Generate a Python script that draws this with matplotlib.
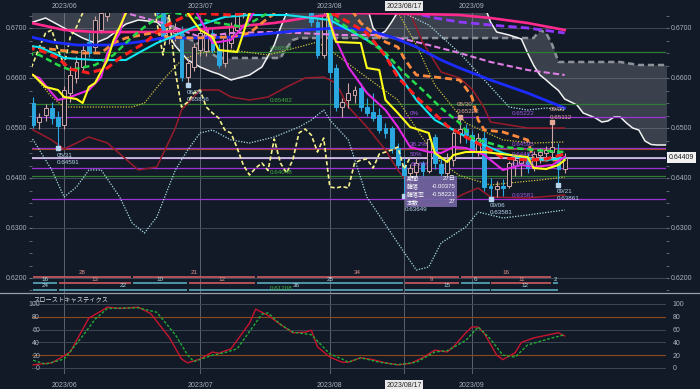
import matplotlib
matplotlib.use("Agg")
import matplotlib.pyplot as plt
import matplotlib.transforms as mtransforms
from matplotlib.patches import Rectangle
from matplotlib.lines import Line2D
import numpy as np

plt.rcParams['font.family'] = ['Liberation Sans', 'Noto Sans CJK JP', 'DejaVu Sans']

BG = '#131a27'

# trading-day index: 0 = 2023/06/01, -5 = 2023/05/25, 81 = 2023/09/22
day = np.arange(-5, 82)
opens = [.6550, .6512, .6526, .6540, .6522, .6506, .6570, .6600, .6622, .6672,
         .6662, .6696, .6725, .6745, .6790, .6780, .6860, .6867, .6840, .6805,
         .6800, .6730, .6682, .6690, .6696, .6602, .6622, .6656, .6655, .6690,
         .6656, .6630, .6670, .6696, .6730, .6800, .6880, .6840, .6810, .6790,
         .6760, .6790, .6750, .6745, .6790, .6775, .6712, .6646, .6725, .6620,
         .6542, .6556, .6566, .6580, .6542, .6532, .6526, .6500, .6500, .6460,
         .6426, .6410, .6412, .6430, .6415, .6482, .6428, .6410, .6436, .6490,
         .6498, .6486, .6452, .6480, .6384, .6378, .6384, .6385, .6425, .6430,
         .6438, .6420, .6446, .6450, .6452, .6450, .6418]
highs = [.6562, .6530, .6548, .6552, .6534, .6585, .6625, .6645, .6668, .6690,
         .6725, .6740, .6765, .6800, .6805, .6870, .6900, .6870, .6850, .6830,
         .6810, .6745, .6712, .6710, .6705, .6638, .6670, .6700, .6705, .6700,
         .6668, .6690, .6712, .6740, .6810, .6895, .6895, .6850, .6820, .6795,
         .6800, .6800, .6760, .6800, .6810, .6790, .6722, .6735, .6730, .6628,
         .6560, .6590, .6585, .6590, .6560, .6570, .6540, .6510, .6505, .6470,
         .6440, .6428, .6440, .6435, .6490, .6488, .6440, .6450, .6500, .65222,
         .6508, .6495, .6490, .6492, .6400, .6395, .6398, .6435, .6445, .6440,
         .6450, .6455, .6460, .6465, .65112, .6470, .6450]
lows = [.6500, .6498, .6515, .6508, .64591, .6497, .6553, .6590, .6612, .6642,
        .6650, .6690, .6715, .6735, .6755, .6770, .6840, .6820, .6790, .6785,
        .6720, .6676, .6668, .6675, .6595, .65856, .6615, .6645, .6645, .6650,
        .6620, .6622, .6660, .6690, .6720, .6790, .6830, .6790, .6770, .6750,
        .6750, .6740, .6730, .6740, .6770, .6705, .6640, .6640, .6600, .6535,
        .6522, .6540, .6550, .6535, .6525, .6515, .6490, .6480, .6450, .6420,
        .63649, .6380, .6400, .6400, .6410, .6418, .6400, .6405, .6425, .6470,
        .6470, .6445, .6445, .6375, .63581, .6362, .6365, .6380, .6405, .6405,
        .6410, .6415, .6430, .6435, .6440, .63861, .6410]
closes = [.6506, .6522, .6540, .6520, .6504, .6576, .6606, .6632, .6656, .6650,
          .6716, .6730, .6745, .6790, .6780, .6860, .6867, .6840, .6805, .6800,
          .6730, .6682, .6696, .6698, .6602, .6630, .6662, .6690, .6696, .6656,
          .6626, .6682, .6702, .6730, .6800, .6880, .6840, .6810, .6790, .6760,
          .6790, .6750, .6745, .6790, .6775, .6712, .6646, .6725, .6612, .6542,
          .6552, .6570, .6576, .6542, .6530, .6520, .6496, .6490, .6460, .6426,
          .6406, .6420, .6430, .6415, .6478, .6430, .6410, .6436, .6490, .6498,
          .6486, .6452, .6480, .6382, .6380, .6383, .6380, .6430, .6436, .6438,
          .6420, .6448, .6452, .6456, .6462, .6418, .64409]
last_price = 0.64409
chikou_shift = 25

# Ichimoku cloud (leading spans)
cloud_x = [-6, -5, -3, 0, 3, 5, 7, 10, 12, 15, 16, 17, 18, 20, 22, 24, 25, 27, 30, 32,
           34, 35, 36, 37, 38, 44, 49, 50, 51, 52, 53, 54, 55, 60, 68, 69, 70, 72, 74,
           75, 76, 77, 78, 79, 80, 81, 83, 84, 86, 87, 88, 89, 90, 91, 92, 93, 94, 95,
           96, 98]
span_a = [.6705, .6712, .6720, .6700, .6680, .6670, .6680, .6708, .6716, .6712, .6700,
          .6684, .6664, .6636, .6622, .6612, .6608, .6596, .6606, .6622, .6666, .6700,
          .6730, .6750, .6760, .6770, .6745, .6700, .6686, .6694, .6712, .6732, .6760,
          .6770, .6745, .6712, .6692, .6686, .6678, .6650, .6625, .6606, .6596, .6585,
          .6575, .6558, .6546, .6530, .6520, .6512, .6514, .6522, .6522, .6510, .6500,
          .6496, .6474, .6467, .6466, .6466]
span_b = [.6770, .6770, .6770, .6770, .6770, .6770, .6770, .6770, .6770, .6765, .6740,
          .6712, .6698, .6680, .6666, .6648, .6640, .6640, .6640, .6640, .6640, .6640,
          .6660, .6676, .6680, .6680, .6680, .6680, .6680, .6680, .6680, .6680, .6680,
          .6680, .6680, .6680, .6680, .6680, .6680, .6680, .6680, .6696, .6690, .6666,
          .6632, .6632, .6632, .6632, .6632, .6632, .6632, .6632, .6632, .6630, .6628,
          .6626, .6626, .6626, .6626, .6626]

tenkan_x = [-6, -5, -3, -1, 0, 2, 3, 4, 5, 7, 8, 9, 10, 11, 18, 20, 22, 24, 25, 28, 29,
            30, 31, 42, 43, 44, 48, 49, 51, 52, 54, 56, 59, 60, 62, 63, 65, 68, 75, 76,
            78, 80, 81]
tenkan = [.6610, .6606, .6582, .6576, .6562, .6558, .6550, .6582, .6590, .6636, .6676,
          .6702, .6730, .6760, .6760, .6730, .6696, .6682, .6656, .6652, .6690, .6730,
          .6760, .6760, .6710, .6672, .6670, .6620, .6616, .6556, .6530, .6502, .6490,
          .6450, .6432, .6446, .6452, .6452, .6442, .6420, .6418, .6426, .6436]
kijun_x = [-6, -5, -1, 3, 6, 7, 8, 10, 15, 16, 21, 27, 30, 33, 36, 46, 48, 50, 52, 54,
           55, 56, 57, 60, 64, 65, 66, 67, 68, 71, 74, 75, 76, 81]
kijun = [.6662, .6662, .6656, .6650, .6650, .6660, .6670, .6680, .6692, .6682, .6680,
         .6682, .6690, .6720, .6745, .6745, .6710, .6690, .6672, .6662, .6640, .6622,
         .6606, .6602, .6596, .6580, .6562, .6516, .6496, .6492, .6480, .6476, .6436,
         .6436]

red_x = [-6, -4, -1, 1, 4, 7, 9, 13, 16, 19, 21, 27, 33, 40, 43, 46, 49, 52, 54, 57,
         60, 62, 65, 69, 71, 75, 78, 81]
red_ma = [.6660, .6656, .6640, .6618, .6610, .6620, .6640, .6670, .6702, .6720, .6730,
          .6726, .6735, .6740, .6732, .6712, .6690, .6644, .6602, .6562, .6528, .6504,
          .6482, .6456, .6440, .6436, .6438, .6448]
green_x = [-6, -4, -1, 1, 5, 8, 11, 13, 15, 17, 19, 24, 29, 33, 36, 42, 44, 49, 52, 55,
           58, 61, 64, 66, 71, 78, 81]
green_ma = [.6648, .6646, .6626, .6616, .6626, .6646, .6682, .6702, .6720, .6732, .6728,
            .6712, .6702, .6730, .6745, .6740, .6716, .6676, .6650, .6610, .6576, .6540,
            .6510, .6480, .6462, .6454, .6452]
cyan_x = [-6, -4, 0, 5, 10, 12, 15, 17, 21, 26, 30, 36, 43, 47, 51, 54, 57, 60, 66, 71,
          74, 78, 81]
cyan_ma = [.6664, .6662, .6640, .6636, .6636, .6650, .6670, .6680, .6702, .6722, .6726,
           .6726, .6716, .6690, .6662, .6610, .6556, .6516, .6476, .6450, .6440, .6436,
           .6440]
blue_x = [-6, -2, 2, 8, 12, 16, 22, 27, 34, 39, 44, 49, 53, 57, 61, 64, 69, 75, 81]
blue_ma = [.6684, .6672, .6666, .6666, .6672, .6680, .6680, .6682, .6690, .6696, .6700,
           .6696, .6682, .6662, .6636, .6620, .6596, .6570, .6540]
pink_x = [-6, 0, 5, 16, 27, 34, 39, 45, 54, 64, 69, 75, 81]
pink_ma = [.6712, .6696, .6692, .6692, .6702, .6710, .6720, .6730, .6729, .6726, .6720,
           .6710, .6696]
purple_x = [52, 56, 60, 64, 69, 75, 81]
purple_ma = [.6745, .6732, .6720, .6712, .6706, .6700, .6690]
violet_x = [8, 10, 13, 16, 22, 27, 33, 38, 45, 50, 55, 59, 64, 69, 75, 81]
violet_ma = [.6745, .6730, .6720, .6710, .6682, .6690, .6692, .6690, .6686, .6686,
             .6678, .6666, .6650, .6632, .6616, .6606]
magenta_x = [-6, -4, -2, -1, 1, 4, 6, 7, 9, 10, 21, 23, 24, 27, 30, 31, 42, 43, 44, 46,
             49, 52, 54, 56, 59, 61, 63, 65, 68, 71, 74, 76, 79, 81]
magenta_ma = [.6610, .6600, .6570, .6556, .6562, .6576, .6602, .6650, .6690, .6740,
              .6740, .6696, .6670, .6676, .6716, .6740, .6740, .6716, .6676, .6622,
              .6570, .6536, .6502, .6462, .6452, .6450, .6462, .6460, .6446, .6416,
              .6426, .6422, .6426, .6442]

# Bollinger bands (+-1, 2, 3 sigma)
bb1_up_x = [54, 57, 60, 65, 71, 76, 81]
bb1_up = [.6732, .6666, .6586, .6510, .6476, .6470, .6472]
bb1_lo_x = [-6, -5, -2, 0, 5, 11, 13, 16, 19, 22, 27, 33, 38, 41, 43, 48, 54, 58, 61,
            64, 69, 72, 77, 81]
bb1_lo = [.6610, .6606, .6562, .6542, .6542, .6542, .6550, .6596, .6636, .6650, .6656,
          .6646, .6662, .6672, .6656, .6610, .6556, .6480, .6430, .6405, .6386, .6390,
          .6396, .6402]
bb2_up_x = [55, 56, 58, 61, 64, 66, 68, 69, 75, 81]
bb2_up = [.6745, .6730, .6672, .6612, .6600, .6578, .6540, .6512, .6500, .6500]
bb2_lo_x = [-6, -5, -2, 0, 4, 7, 12, 15, 18, 19, 22, 25, 27, 30, 33, 36, 39, 42, 44, 46,
            49, 52, 54, 56, 58, 61, 65, 67, 69, 75, 81]
bb2_lo = [.6505, .6496, .6476, .6458, .6482, .6470, .6416, .6422, .6500, .6536, .6576,
          .6576, .6562, .6556, .6562, .6582, .6600, .6602, .6590, .6542, .6502, .6456,
          .6416, .6385, .6346, .6346, .6370, .6380, .6362, .6360, .6366]
bb3_up_x = [54, 55, 59, 64, 68, 72, 75, 78, 81]
bb3_up = [.6745, .6730, .6706, .6650, .6596, .6542, .6536, .6540, .6536]
bb3_lo_x = [-6, -5, -2, 0, 2, 4, 6, 9, 11, 13, 15, 18, 20, 22, 24, 27, 30, 34, 38, 40,
            42, 43, 46, 49, 54, 57, 59, 61, 65, 67, 71, 75, 81]
bb3_lo = [.6490, .6476, .6416, .6362, .6382, .6416, .6416, .6362, .6310, .6290, .6322,
          .6416, .6456, .6490, .6496, .6476, .6470, .6482, .6502, .6516, .6536, .6516,
          .6476, .6362, .6270, .6216, .6222, .6270, .6302, .6332, .6320, .6326, .6336]

# horizontal levels
fibo_levels = [0.65222, 0.64595, 0.64402, 0.64208, 0.63581]
fibo_names = ['0%', '38.2%', '50%', '61.8%', '100%']
green_levels = [0.66518, 0.65482, 0.64048]
brown_level = 0.6458

# swing counts under the price area
hi_edges = [-5.2, 11, 31, 64, 79]
hi_counts = ['28', '21', '34', '16']
mid_edges = [-5.2, -1, 11, 20, 31, 55, 64, 69, 79, 80]
mid_counts = ['16', '13', '10', '12', '25', '9', '6', '11', '2']
lo_edges = [-5.2, -1, 20, 55, 69, 80]
lo_counts = ['24', '22', '36', '15', '12']

# slow stochastics
k_x = [-5, -2, 1, 4, 6, 7, 9, 12, 14, 17, 19, 20, 22, 24, 25, 27, 30, 31, 33, 35, 37, 39,
       40, 41, 43, 45, 46, 48, 50, 52, 54, 56, 58, 60, 62, 63, 65, 66, 67, 68, 70, 71,
       73, 74, 76, 79, 80, 81]
k_val = [5, 8, 25, 78, 89, 95, 93, 95, 85, 48, 14, 8, 14, 25, 23, 30, 70, 92, 82, 68, 55,
         56, 59, 33, 17, 9, 9, 16, 13, 8, 5, 7, 16, 28, 25, 33, 55, 64, 64, 54, 20, 13,
         24, 40, 47, 53, 55, 50]
d_x = [-5, -3, 0, 3, 5, 7, 12, 15, 18, 20, 21, 24, 26, 28, 32, 33, 35, 37, 40, 43, 45,
       46, 48, 51, 54, 57, 60, 62, 65, 67, 69, 71, 73, 75, 79, 81]
d_val = [12, 6, 14, 50, 76, 93, 94, 87, 52, 20, 10, 20, 24, 30, 84, 86, 68, 56, 52, 22,
         14, 9, 16, 9, 5, 9, 25, 27, 43, 64, 45, 20, 17, 36, 47, 52]

month_idx = [0, 22, 43, 55, 66]
month_lbl = ['2023/06', '2023/07', '2023/08', '2023/08/17', '2023/09']

TXT = '#a9b1bd'
fig = plt.figure(figsize=(7, 3.89), dpi=100, facecolor=BG)
ax = fig.add_axes([32/700, 96/389, 634/700, 280/389])
ax2 = fig.add_axes([32/700, 15/389, 634/700, 79/389])
for a in (ax, ax2):
    a.set_facecolor(BG)
    for s in a.spines.values():
        s.set_visible(False)
    a.set_xlim(-5.2, 97.4)
    for m in month_idx:
        a.axvline(m, color='#5b616d', lw=0.7, zorder=1)
ax.set_ylim(0.617, 0.673)
ax2.set_ylim(-9.4, 114)

# main price axis
yt = [0.62, 0.63, 0.64, 0.65, 0.66, 0.67]
ax.set_yticks(yt)
ax.set_yticklabels([f'{v:.4f}' for v in yt])
ax.set_yticks(np.arange(0.6175, 0.6730, 0.0025), minor=True)
ax.tick_params(axis='y', which='both', left=True, right=True, labelleft=True,
               labelright=True, length=2, color='#6a707c', labelsize=5,
               labelcolor=TXT, pad=1.5)
ax.tick_params(axis='x', bottom=False, labelbottom=False)
for v in yt:
    ax.axhline(v, color='#414857', lw=0.7, zorder=1)

# cloud
ax.fill_between(cloud_x, span_a, span_b, color='#8a9099', alpha=0.33, lw=0, zorder=1)
ax.plot(cloud_x, span_b, color='#8d9298', lw=1.8, ls=(0, (2.5, 1.5)), zorder=2)
ax.plot(cloud_x, span_a, color='#f2f2f2', lw=1.1, zorder=2)

# horizontal level lines
for v in fibo_levels:
    ax.axhline(v, color='#9a32d6', lw=0.9, zorder=2)
for v in green_levels:
    ax.axhline(v, color='#2f7d34', lw=0.9, zorder=2)
ax.axhline(brown_level, color='#9c4a2a', lw=0.8, zorder=2)
ax.axhline(last_price, color='#e2d8f2', lw=1.1, zorder=2)

# bollinger bands
for xs, ys in ((bb1_up_x, bb1_up), (bb1_lo_x, bb1_lo)):
    ax.plot(xs, ys, color='#c9c23a', lw=0.9, ls=(0, (1, 1.2)), zorder=3)
for xs, ys in ((bb2_up_x, bb2_up), (bb2_lo_x, bb2_lo)):
    ax.plot(xs, ys, color='#981b2c', lw=1.1, zorder=3)
for xs, ys in ((bb3_up_x, bb3_up), (bb3_lo_x, bb3_lo)):
    ax.plot(xs, ys, color='#a9dde6', lw=0.9, ls=(0, (1, 1.2)), zorder=3)

# candles
for i, o, h, l, c in zip(day, opens, highs, lows, closes):
    up = c >= o
    col = '#cfa6a6' if up else '#2aa8df'
    ax.vlines(i, l, h, color=col, lw=0.8, zorder=4)
    ax.bar(i, max(abs(c - o), 0.00008), bottom=min(o, c), width=0.62,
           facecolor=BG if up else col, edgecolor=col, lw=0.7, zorder=4)

# chikou span
ch_x = day - chikou_shift
ax.plot(ch_x, closes, color='#f4f08c', lw=1.2, ls=(0, (2.5, 1.5)), zorder=5)

# moving averages and ichimoku lines
ax.plot(violet_x, violet_ma, color='#e07ee6', lw=1.5, ls=(0, (3, 1.5)), zorder=5)
ax.plot(purple_x, purple_ma, color='#8f38ff', lw=2.0, ls=(0, (3, 1.5)), zorder=5)
ax.plot(pink_x, pink_ma, color='#ff2a8c', lw=1.9, zorder=5)
ax.plot(blue_x, blue_ma, color='#1c2cff', lw=2.0, zorder=5)
ax.plot(kijun_x, kijun, color='#ff8a3d', lw=2.0, ls=(0, (2.5, 1.5)), zorder=5)
ax.plot(cyan_x, cyan_ma, color='#12e4f2', lw=1.5, zorder=6)
ax.plot(green_x, green_ma, color='#25d94a', lw=1.8, ls=(0, (2.5, 1.5)), zorder=6)
ax.plot(red_x, red_ma, color='#ff1e1e', lw=2.2, ls=(0, (2.5, 1.5)), zorder=6)
ax.plot(magenta_x, magenta_ma, color='#e427e4', lw=1.5, zorder=6)
ax.plot(tenkan_x, tenkan, color='#ffff1a', lw=1.5, zorder=6)

# swing count rows
def band(edges, counts, y, colors, tcolors):
    for k, lab in enumerate(counts):
        a0, a1 = edges[k], edges[k + 1]
        ax.plot([a0 + 0.15, a1 - 0.15], [y, y], color=colors[k % len(colors)],
                lw=1.2, zorder=3, solid_capstyle='butt')
        ax.text((a0 + a1) / 2, y + 0.0003, lab, fontsize=4.5,
                color=tcolors[k % len(tcolors)], ha='center', va='bottom', zorder=7)

RED_B, TEAL_B = '#cf5a60', '#5aaabb'
band(hi_edges, hi_counts, 0.6202, [RED_B], ['#e09090'])
band(mid_edges, mid_counts, 0.6189, [TEAL_B, RED_B], ['#b0dce4', '#e09090'])
band(lo_edges, lo_counts, 0.6176, [TEAL_B], ['#b0dce4'])
ax.text(33.3, 0.6178, '0.61208', fontsize=4.5, color='#3fae3f', va='center', zorder=7)

# level labels
for v, t in zip(green_levels, ['0.66518', '0.65482', '0.64048']):
    ax.text(33.3, v + 0.0002, t, fontsize=4.5, color='#3fae3f', va='bottom', zorder=7)
for v, t in zip(fibo_levels, fibo_names):
    if t != '100%':
        ax.text(56.0, v + 0.0002, t, fontsize=4.5, color='#a457e6', va='bottom', zorder=7)
    ax.text(72.5, v + 0.0002, f'{v:.5f}', fontsize=4.5, color='#a457e6', va='bottom',
            zorder=7)

# swing high / low labels
LOWC, HIGHC = '#b6d6ee', '#e6a696'
swings = [(-1, 0.64591, '05/31', LOWC, -1), (20, 0.65856, '06/29', LOWC, -1),
          (64, 0.65222, '08/30', HIGHC, 1), (79, 0.65112, '09/20', HIGHC, 1),
          (69, 0.63581, '09/06', LOWC, -1), (80, 0.63861, '09/21', LOWC, -1)]
for i, v, d, col, side in swings:
    ax.plot(i, v, marker='s', ms=2.2, color=col, zorder=8)
    if side < 0:
        ax.text(i - 0.2, v - 0.0009, d, fontsize=4.5, color=col, va='top', zorder=8)
        ax.text(i - 0.2, v - 0.0023, f'{v:.5f}', fontsize=4.5, color=col, va='top', zorder=8)
    else:
        ax.text(i - 0.4, v + 0.0020, d, fontsize=4.5, color=col, va='bottom', zorder=8)
        ax.text(i - 0.4, v + 0.0005, f'{v:.5f}', fontsize=4.5, color=col, va='bottom', zorder=8)

# period info box
ax.add_patch(Rectangle((55.2, 0.6342), 8.4, 0.0061, facecolor='#7566a6', alpha=0.9,
                       edgecolor='none', zorder=9))
rows = [('期間', '27日'), ('騰落', '-0.00375'), ('騰落率', '-0.58221'), ('本数', '27')]
for k, (a, b) in enumerate(rows):
    yy = 0.6398 - k * 0.00153
    ax.text(55.5, yy, a, fontsize=4.3, color='white', va='center', zorder=10)
    ax.text(63.4, yy, b, fontsize=4.3, color='white', va='center', ha='right', zorder=10)
ax.plot(55, 0.63649, marker='s', ms=2.2, color=LOWC, zorder=8)
ax.text(55.1, 0.6341, '0.63649', fontsize=4.5, color=LOWC, va='top', zorder=10)

# current price tag
tr = mtransforms.blended_transform_factory(ax.transAxes, ax.transData)
ax.text(1.004, last_price, f'{last_price:.5f}', transform=tr, fontsize=5, color='#1a1a1a',
        va='center', ha='left', bbox=dict(facecolor='#f2f2f2', edgecolor='none', pad=1.2),
        zorder=10, clip_on=False)

# top date labels
trx = mtransforms.blended_transform_factory(ax.transData, ax.transAxes)
for m, lab in zip(month_idx, month_lbl):
    if lab == '2023/08/17':
        ax.text(m, 1.012, lab, transform=trx, fontsize=5, color='#222', ha='center',
                va='bottom', bbox=dict(facecolor='#e8e8e8', edgecolor='none', pad=1.3),
                clip_on=False)
    else:
        ax.text(m, 1.012, lab, transform=trx, fontsize=5, color=TXT, ha='center',
                va='bottom', clip_on=False)

# panel separator
fig.add_artist(Line2D([0, 1], [96/389, 96/389], transform=fig.transFigure,
                      color='#9aa0aa', lw=0.9))

# stochastics panel
for v in [0, 40, 60, 100]:
    ax2.axhline(v, color='#3f4654', lw=0.7, zorder=1)
for v in [20, 80]:
    ax2.axhline(v, color='#8a4a1e', lw=0.8, zorder=1)
ax2.plot(k_x, k_val, color='#c8142e', lw=1.0, zorder=3)
ax2.plot(d_x, d_val, color='#1fae35', lw=1.0, ls=(0, (2, 1.3)), zorder=4)
st = [0, 20, 40, 60, 80, 100]
ax2.set_yticks(st)
ax2.set_yticklabels([str(v) for v in st])
ax2.tick_params(axis='y', left=False, right=False, labelleft=False, labelright=True,
                labelsize=5, labelcolor=TXT, pad=1.5)
tr2 = mtransforms.blended_transform_factory(ax2.transAxes, ax2.transData)
for v in st:
    ax2.text(0.0126, v - 1.5, str(v), transform=tr2, fontsize=5, color=TXT, ha='right',
             va='center')
ax2.text(0.002, 112, 'スローストキャスティクス', transform=tr2, fontsize=4.5,
         color='#d6dae2', va='top')
ax2.set_xticks(month_idx)
ax2.set_xticklabels(month_lbl)
ax2.tick_params(axis='x', bottom=False, labelsize=5, labelcolor=TXT, pad=2)
for t in ax2.get_xticklabels():
    if t.get_text() == '2023/08/17':
        t.set_color('#222')
        t.set_bbox(dict(facecolor='#e8e8e8', edgecolor='none', pad=1.3))

fig.savefig('out.png', dpi=100, facecolor=BG)
